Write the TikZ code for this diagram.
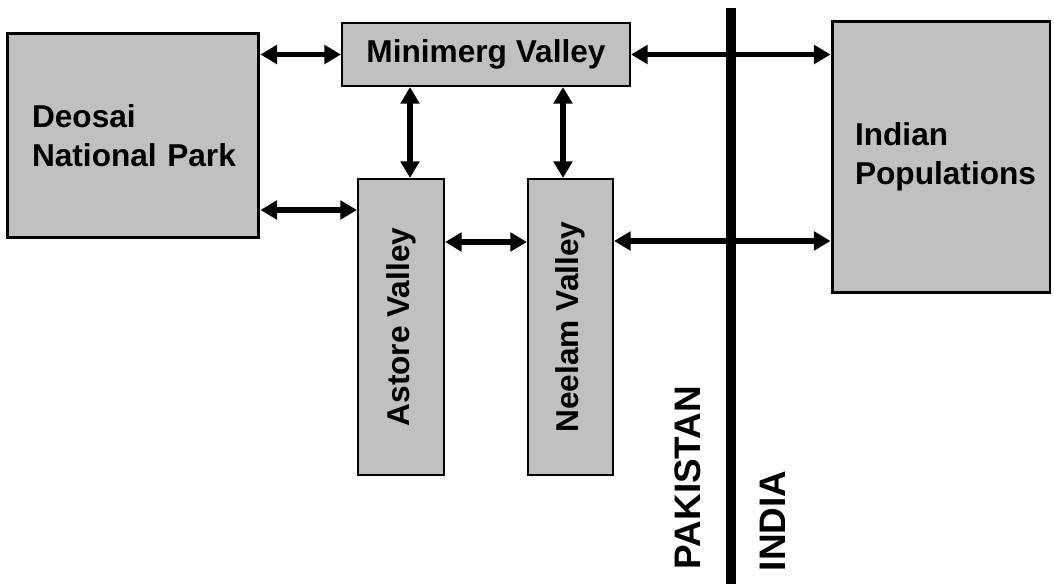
\documentclass[tikz,border=0pt]{standalone}
\usepackage{fontspec}
\setmainfont{Liberation Sans}
\usetikzlibrary{arrows.meta}
\definecolor{bx}{HTML}{c0c0c0}

\tikzset{
  box/.style={draw, fill=bx, line width=1.2pt, inner sep=0pt,
    font=\bfseries\fontsize{18}{22}\selectfont},
  link/.style={{Triangle[length=9.5pt,width=10.5pt]}-{Triangle[length=9.5pt,width=10.5pt]},
    line width=3pt},
  country/.style={rotate=90, font=\bfseries\fontsize{21}{24}\selectfont}
}

\begin{document}
\begin{tikzpicture}[x=0.02cm,y=-0.02cm]
            \useasboundingbox (0,0) rectangle (1054,584);
            % boxes
            \node[box, line width=1.7pt, minimum width=5.04cm, minimum height=4.1cm,
              text width=4.04cm, inner xsep=0.5cm, align=left] (deosai) at (133,135.5)
              {Deosai\\\mbox{National Park}};
            \node[box, minimum width=5.76cm, minimum height=1.26cm] (minimerg) at (486,54.5)
              {Minimerg Valley};
            \node[box, minimum width=1.72cm, minimum height=5.92cm] (astore) at (401,327)
              {\rotatebox{90}{Astore Valley}};
            \node[box, minimum width=1.7cm, minimum height=5.92cm] (neelam) at (570.5,327)
              {\rotatebox{90}{Neelam Valley}};
            \node[box, line width=1.7pt, minimum width=4.36cm, minimum height=5.44cm,
              text width=3.44cm, inner xsep=0.46cm, align=left] (indian) at (941,157)
              {Indian\\\mbox{Populations}};
            % border
            \draw[line width=6.2pt] (731,8) -- (731,584);
            \node[country] (pak) at (688,477.5) {PAKISTAN};
            \node[country] (ind) at (773,521) {INDIA};
            % links
            \draw[link] (deosai.east |- minimerg.west) -- (minimerg.west);
            \draw[link] (deosai.east |- 0,210) -- (astore.west |- 0,210);
            \draw[link] (minimerg.south -| 410,0) -- (astore.north -| 410,0);
            \draw[link] (minimerg.south -| 563,0) -- (neelam.north -| 563,0);
            \draw[link] (astore.east |- 0,242) -- (neelam.west |- 0,242);
            \draw[link] (minimerg.east) -- (indian.west |- minimerg.east);
            \draw[link] (neelam.east |- 0,241) -- (indian.west |- 0,241);
          \end{tikzpicture}
\end{document}
